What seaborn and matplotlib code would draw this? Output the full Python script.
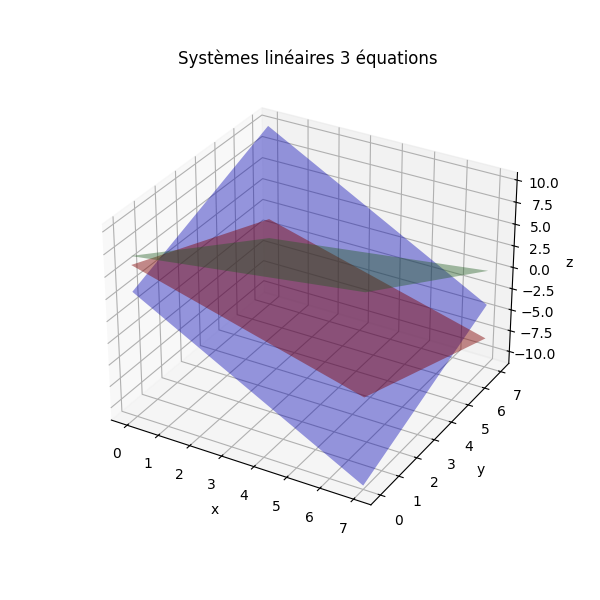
import numpy as np
import matplotlib
matplotlib.use("Agg")
import matplotlib.pyplot as plt
import seaborn as sns

# ===================== DATA =====================
x_corners = [0, 7]
y_corners = [0, 7]
# z at the corners, rows are y, columns are x
z_blue = [[3, -11], [10, -4]]
z_red = [[6, -1], [-1, -8]]
z_green = [[7, 10.4], [-3.3, 0]]

# ===================== PLOT =====================
sns.reset_orig()
palette = sns.color_palette(["#0000b4", "#800000", "#1e5a1e"])
alphas = [0.4, 0.45, 0.4]

X, Y = np.meshgrid(x_corners, y_corners)

fig = plt.figure(figsize=(6, 6), dpi=100)
ax = fig.add_subplot(projection="3d")

for z, col, a in zip([z_blue, z_red, z_green], palette, alphas):
    ax.plot_surface(X, Y, np.array(z, dtype=float), color=col, alpha=a, shade=False)

ax.set_xlabel("x")
ax.set_ylabel("y")
ax.set_zlabel("z")
ax.set_title("Systèmes linéaires 3 équations")

plt.savefig("out.png", dpi=100)
